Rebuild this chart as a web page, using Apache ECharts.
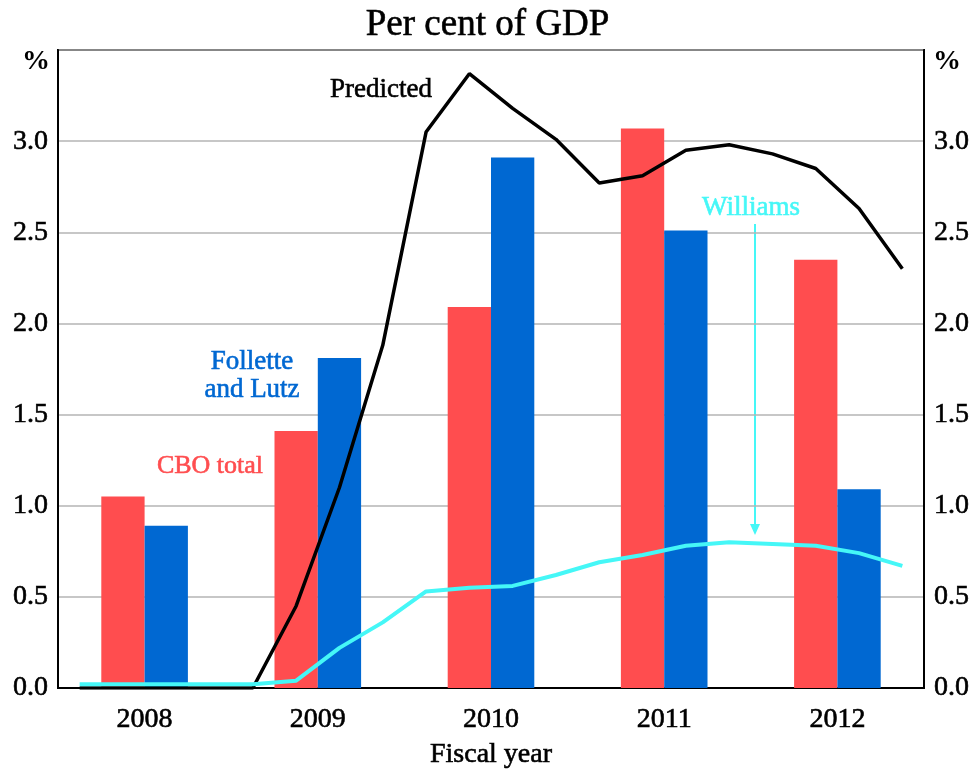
<!DOCTYPE html>
<html lang="en">
<head>
    <meta charset="UTF-8">
    <title>Per cent of GDP</title>
    <script src="https://cdn.jsdelivr.net/npm/echarts@6/dist/echarts.min.js"></script>
    <style>
        html, body { margin: 0; padding: 0; background: #fff; }
    </style>
</head>
<body>
<div id="chart" style="width: 975px;height: 771px"></div>
<script type="text/javascript">
    // fiscal years and annual estimates
    var years = ['2008', '2009', '2010', '2011', '2012'];
    var cboTotal = [1.05, 1.41, 2.09, 3.07, 2.35];
    var folletteLutz = [0.89, 1.81, 2.91, 2.51, 1.09];

    // quarterly series (4 per fiscal year)
    var quarters = [
        '08Q1', '08Q2', '08Q3', '08Q4', '09Q1', '09Q2', '09Q3', '09Q4',
        '10Q1', '10Q2', '10Q3', '10Q4', '11Q1', '11Q2', '11Q3', '11Q4',
        '12Q1', '12Q2', '12Q3', '12Q4'
    ];
    var predicted = [0, 0, 0, 0, 0, 0.45, 1.10, 1.88, 3.05, 3.37,
        3.18, 3.01, 2.77, 2.81, 2.95, 2.98, 2.93, 2.85, 2.63, 2.30];
    var williams = [0.02, 0.02, 0.02, 0.02, 0.02, 0.04, 0.22, 0.36, 0.53, 0.55,
        0.56, 0.62, 0.69, 0.73, 0.78, 0.80, 0.79, 0.78, 0.74, 0.67];

    var yTicks = [0, 0.5, 1.0, 1.5, 2.0, 2.5, 3.0];

    var FONT = "'Liberation Serif', 'Times New Roman', serif";
    var RED = '#ff4d4f';
    var BLUE = '#0068d2';
    var CYAN = '#45f7f7';
    var THICK = 0.6; // slight stroke so the serif text looks as heavy as the original

    var myChart = echarts.init(document.getElementById('chart'));

    function yLabel(v) {
        // top of axis (3.5) carries the % sign instead of a number
        for (var i = 0; i < yTicks.length; i++) {
            if (Math.abs(yTicks[i] - v) < 1e-6) return v.toFixed(1);
        }
        return '';
    }

    var yBase = {
        type: 'value',
        min: 0,
        max: 3.5,
        interval: 0.5,
        axisLine: {show: true, lineStyle: {color: '#000', width: 2}},
        axisTick: {show: false},
        axisLabel: {
            formatter: yLabel,
            color: '#000',
            fontFamily: FONT,
            fontSize: 28,
            margin: 10,
            textBorderColor: '#000',
            textBorderWidth: THICK
        }
    };

    function label(text, x, y, color, size) {
        return {
            type: 'text', x: x, y: y,
            style: {
                text: text, fontFamily: FONT, fontSize: size, lineHeight: 28,
                fill: color, stroke: color, lineWidth: THICK,
                align: 'center', verticalAlign: 'middle'
            }
        };
    }

    var option = {
        animation: false,
        title: {
            text: 'Per cent of GDP',
            left: 'center',
            top: 2,
            textStyle: {fontFamily: FONT, fontSize: 37, fontWeight: 'normal', color: '#000',
                textBorderColor: '#000', textBorderWidth: THICK}
        },
        grid: {
            left: 58, right: 51, top: 50, bottom: 83,
            outerBoundsMode: 'none',
            containLabel: false,
            show: true, borderColor: '#000', borderWidth: 2
        },
        xAxis: [
            {
                type: 'category',
                data: years,
                name: 'Fiscal year',
                nameLocation: 'middle',
                nameGap: 53,
                nameTextStyle: {fontFamily: FONT, fontSize: 28, color: '#000',
                    textBorderColor: '#000', textBorderWidth: THICK},
                axisLine: {lineStyle: {color: '#000', width: 2}},
                axisTick: {inside: true, length: 12, lineStyle: {color: '#000', width: 1.5}},
                axisLabel: {color: '#000', fontFamily: FONT, fontSize: 28, margin: 18,
                    textBorderColor: '#000', textBorderWidth: THICK}
            },
            {
                type: 'category',
                data: quarters,
                show: false
            }
        ],
        yAxis: [
            echarts.util.merge({
                position: 'left',
                splitLine: {lineStyle: {color: '#b5b5b5', width: 1.5}}
            }, yBase),
            echarts.util.merge({
                position: 'right',
                splitLine: {show: false}
            }, yBase)
        ],
        series: [
            {
                name: 'CBO total',
                type: 'bar',
                data: cboTotal,
                barWidth: '25%',
                barGap: '0%',
                itemStyle: {color: RED}
            },
            {
                name: 'Follette and Lutz',
                type: 'bar',
                data: folletteLutz,
                barWidth: '25%',
                itemStyle: {color: BLUE}
            },
            {
                name: 'Predicted',
                type: 'line',
                xAxisIndex: 1,
                data: predicted,
                symbol: 'none',
                lineStyle: {color: '#000', width: 3.5}
            },
            {
                name: 'Williams',
                type: 'line',
                xAxisIndex: 1,
                data: williams,
                symbol: 'none',
                lineStyle: {color: CYAN, width: 4}
            }
        ],
        graphic: [
            {type: 'text', left: 22, top: 48,
                style: {text: '%', fontFamily: FONT, fontSize: 28, fontWeight: 'bold', fill: '#000'}},
            {type: 'text', left: 933, top: 48,
                style: {text: '%', fontFamily: FONT, fontSize: 28, fontWeight: 'bold', fill: '#000'}},
            label('Predicted', 381, 90, '#000', 27),
            label('Williams', 751, 208, CYAN, 27),
            label('Follette\nand Lutz', 252, 376, BLUE, 27),
            label('CBO total', 210, 466, RED, 26),
            // arrow from the Williams label down to its line
            {type: 'line', shape: {x1: 755, y1: 224, x2: 755, y2: 528},
                style: {stroke: CYAN, lineWidth: 2}},
            {type: 'polygon', shape: {points: [[750, 524], [760, 524], [755, 535]]},
                style: {fill: CYAN}}
        ]
    };

    myChart.setOption(option);
</script>
</body>
</html>
